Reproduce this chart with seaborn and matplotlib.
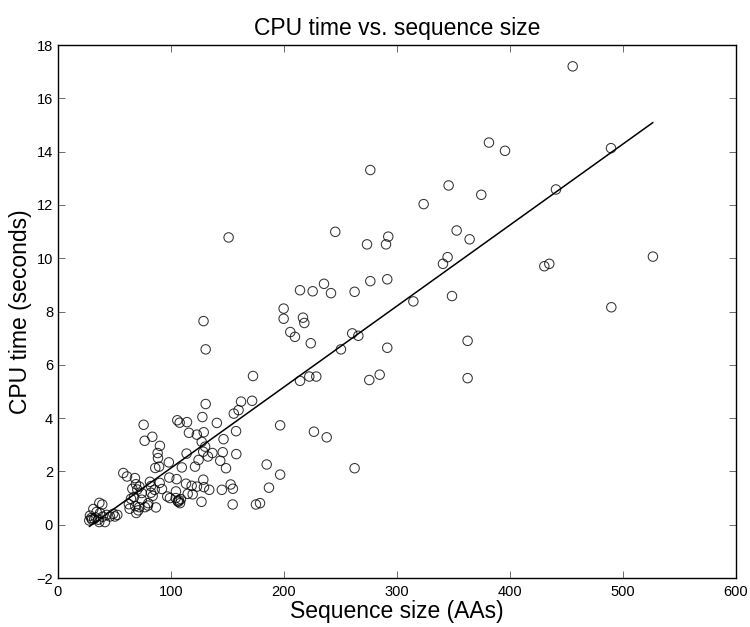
import numpy as np
import pandas as pd
import matplotlib
matplotlib.use("Agg")
import matplotlib.pyplot as plt
import seaborn as sns

seq_size = [
    455.5, 381.4, 395.6, 489.4, 345.7, 374.6, 323.6, 440.7, 352.8, 364.3,
    344.8, 340.7, 430.4, 434.8, 526.5, 314.5, 348.7, 489.7, 362.5, 362.5,
    276.4, 245.4, 273.5, 290.3, 292.3, 214.2, 225.4, 235.4, 241.6, 262.5,
    276.4, 291.4, 199.7, 199.7, 216.8, 218.0, 205.6, 209.7, 223.7, 260.4,
    265.8, 250.4, 291.4, 214.2, 222.4, 228.6, 275.5, 284.7, 226.5, 237.8,
    262.5, 151.0, 128.8, 130.7, 172.6, 130.7, 127.8, 162.0, 171.8, 159.8,
    155.6, 140.6, 129.0, 157.6, 196.6, 146.5, 127.2, 130.2, 128.5, 136.7,
    132.7, 145.8, 157.8, 143.6, 148.7, 184.7, 196.6, 186.7, 128.6, 133.9,
    145.0, 152.8, 154.8, 127.0, 154.6, 175.2, 178.8, 105.6, 107.7, 114.2,
    83.5, 115.9, 122.9, 90.2, 88.2, 88.5, 86.1, 89.5, 98.1, 109.6,
    113.8, 81.4, 98.5, 105.0, 113.3, 118.3, 123.0, 121.3, 124.4, 85.6,
    92.0, 83.8, 96.7, 104.2, 108.8, 119.2, 75.8, 76.7, 57.8, 61.1,
    68.1, 69.0, 90.0, 65.8, 70.2, 74.1, 67.3, 74.1, 82.3, 99.1,
    105.9, 64.6, 62.8, 63.4, 68.4, 71.9, 71.1, 69.3, 77.0, 79.6,
    79.9, 86.7, 36.6, 39.2, 31.3, 28.3, 30.1, 27.7, 34.2, 37.2,
    39.6, 43.1, 46.0, 50.4, 52.5, 48.9, 33.4, 35.7, 41.6, 36.5,
    107.1, 108.0, 106.5, 104.4, 114.8, 129.2, 72.1, 82.3, 29.5, 32.0,
]
cpu_time = [
    17.20, 14.34, 14.03, 14.13, 12.73, 12.38, 12.03, 12.58, 11.04, 10.71,
    10.04, 9.79, 9.70, 9.79, 10.06, 8.38, 8.58, 8.16, 6.90, 5.50,
    13.31, 10.99, 10.52, 10.52, 10.81, 8.80, 8.76, 9.04, 8.69, 8.74,
    9.14, 9.21, 8.11, 7.73, 7.77, 7.57, 7.23, 7.05, 6.81, 7.18,
    7.09, 6.58, 6.64, 5.40, 5.56, 5.56, 5.43, 5.63, 3.49, 3.28,
    2.12, 10.78, 7.64, 6.58, 5.58, 4.53, 4.04, 4.62, 4.65, 4.30,
    4.17, 3.82, 3.47, 3.51, 3.73, 3.21, 3.11, 2.93, 2.74, 2.69,
    2.56, 2.72, 2.65, 2.40, 2.12, 2.26, 1.88, 1.39, 1.69, 1.31,
    1.31, 1.51, 1.35, 0.86, 0.76, 0.76, 0.81, 3.92, 3.83, 3.85,
    3.30, 3.45, 3.38, 2.96, 2.69, 2.50, 2.13, 2.18, 2.34, 2.15,
    2.67, 1.61, 1.77, 1.71, 1.54, 1.46, 1.43, 2.18, 2.43, 1.31,
    1.34, 1.08, 1.06, 1.00, 0.96, 1.14, 3.75, 3.15, 1.94, 1.81,
    1.75, 1.52, 1.57, 1.35, 1.32, 1.19, 1.04, 0.94, 1.20, 1.00,
    0.89, 0.97, 0.77, 0.60, 0.70, 0.66, 0.54, 0.44, 0.66, 0.72,
    0.81, 0.65, 0.82, 0.76, 0.59, 0.34, 0.19, 0.16, 0.48, 0.44,
    0.30, 0.37, 0.31, 0.31, 0.37, 0.41, 0.27, 0.19, 0.10, 0.10,
    0.92, 0.81, 0.86, 1.25, 1.16, 1.41, 1.43, 1.45, 0.25, 0.22,
]

x_ticks = [0, 100, 200, 300, 400, 500, 600]
y_ticks = [-2, 0, 2, 4, 6, 8, 10, 12, 14, 16, 18]

df = pd.DataFrame({"size": seq_size, "cpu": cpu_time})

sns.set_theme(style="white")
plt.rcParams["font.family"] = ["Liberation Sans", "DejaVu Sans"]

fig = plt.figure(figsize=(7.5, 6.27), dpi=100)
ax = fig.add_axes([0.0773, 0.0781, 0.904, 0.8501])

sns.regplot(
    data=df, x="size", y="cpu", ax=ax, ci=None, truncate=True,
    marker="o",
    scatter_kws=dict(s=46, facecolors="none", edgecolors="black", linewidths=0.75),
    line_kws=dict(color="black", linewidth=1.1),
)

ax.set_xlim(0, 600)
ax.set_ylim(-2, 18)
ax.set_xticks(x_ticks)
ax.set_yticks(y_ticks)
ax.set_xticklabels([str(t) for t in x_ticks])
ax.set_yticklabels([str(t).replace("-", "\u2212") for t in y_ticks])
ax.tick_params(direction="in", length=5, width=0.6, color="#555555",
               labelsize=10.5, labelcolor="black",
               top=True, right=True, bottom=True, left=True)
ax.tick_params(axis="x", pad=5)
for sp in ax.spines.values():
    sp.set_visible(True)
    sp.set_color("black")
    sp.set_linewidth(1.0)

ax.set_xlabel("Sequence size (AAs)", fontsize=16.5, color="black", labelpad=1)
ax.set_ylabel("CPU time (seconds)", fontsize=16.5, color="black", labelpad=3)
ax.set_title("CPU time vs. sequence size", fontsize=16.5, color="black", pad=7)
ax.grid(False)

fig.savefig("out.png", dpi=100)
